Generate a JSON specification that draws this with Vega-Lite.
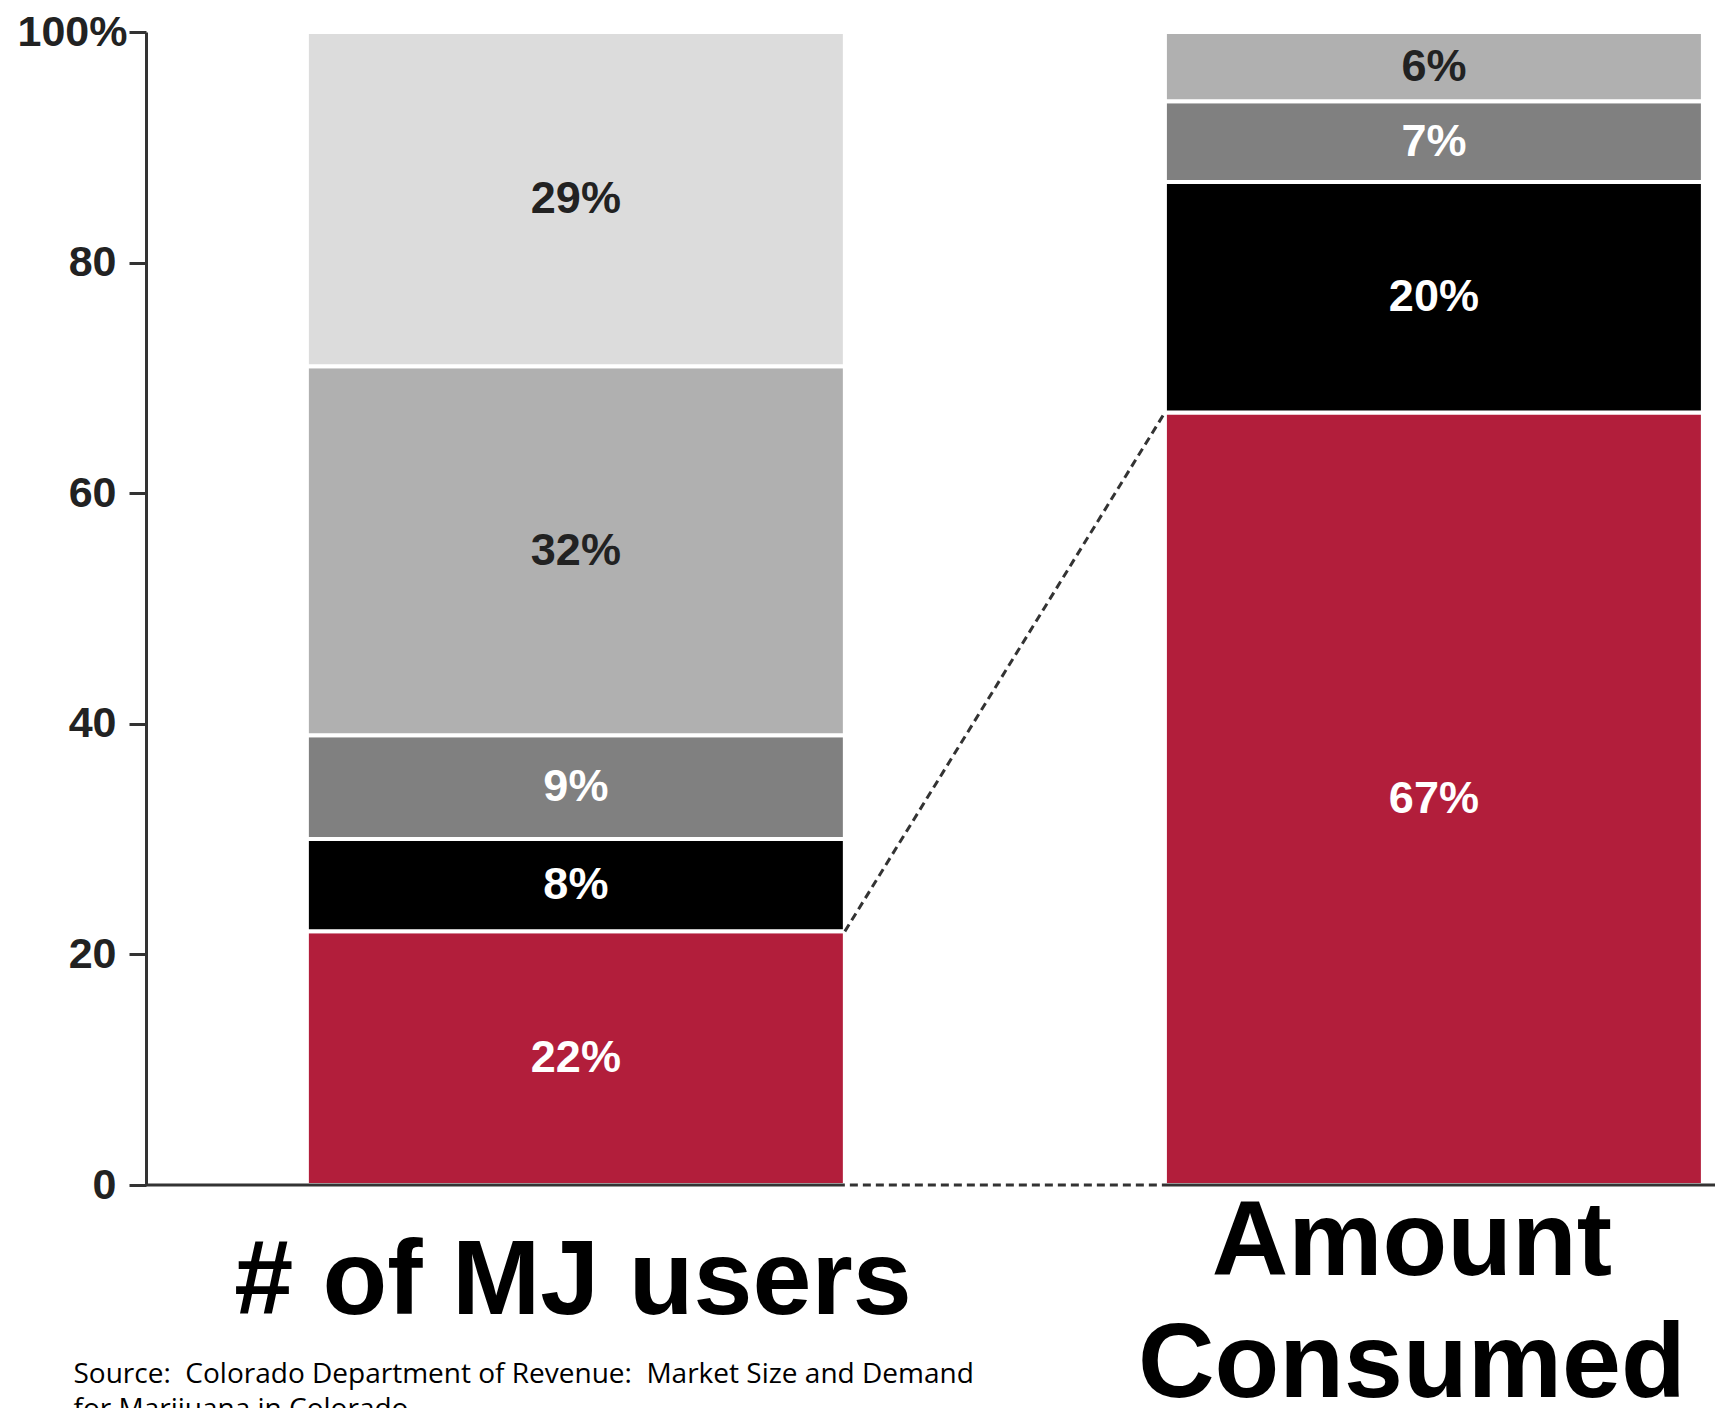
{
  "$schema": "https://vega.github.io/schema/vega-lite/v6.json",
  "autosize": {"type": "none"},
  "padding": {"left": 146, "top": 32, "right": 0, "bottom": 223},
  "width": 1569,
  "height": 1153,
  "background": "white",
  "config": {"view": {"stroke": null}},
  "datasets": {
    "shares": [
      {"bar": "# of MJ users", "seg": "26-31 days", "tier": 1, "value": 0.22},
      {"bar": "# of MJ users", "seg": "21-25 days", "tier": 2, "value": 0.08},
      {"bar": "# of MJ users", "seg": "11-20 days", "tier": 3, "value": 0.09},
      {"bar": "# of MJ users", "seg": "6-10 days", "tier": 4, "value": 0.32},
      {"bar": "# of MJ users", "seg": "1-5 days", "tier": 5, "value": 0.29},
      {"bar": "Amount Consumed", "seg": "26-31 days", "tier": 1, "value": 0.67},
      {"bar": "Amount Consumed", "seg": "21-25 days", "tier": 2, "value": 0.20},
      {"bar": "Amount Consumed", "seg": "11-20 days", "tier": 3, "value": 0.07},
      {"bar": "Amount Consumed", "seg": "6-10 days", "tier": 4, "value": 0.06}
    ],
    "connectors": [
      {"from": "# of MJ users", "to": "Amount Consumed", "lo": 0.22, "hi": 0.67, "base": 0}
    ]
  },
  "layer": [
    {
      "data": {"name": "shares"},
      "mark": {"type": "bar", "stroke": "white", "strokeWidth": 4},
      "encoding": {
        "x": {
          "field": "bar",
          "type": "nominal",
          "sort": null,
          "scale": {"type": "band", "domain": ["# of MJ users", "Amount Consumed"], "paddingInner": 0.373, "paddingOuter": 0.1008, "align": 0.93},
          "axis": {
            "domain": false,
            "ticks": false,
            "tickSize": 0,
            "labelFont": "Liberation Sans",
            "labelFontWeight": "bold",
            "labelColor": "black",
            "labelFontSize": 106,
            "labelExpr": "datum.value == 'Amount Consumed' ? ['Amount', 'Consumed'] : datum.value",
            "labelLineHeight": 122,
            "labelBaseline": "alphabetic",
            "labelPadding": {"condition": {"test": "datum.value == 'Amount Consumed'", "value": 89}, "value": 128},
            "labelOffset": {"condition": {"test": "datum.value == 'Amount Consumed'", "value": -22}, "value": -3},
            "labelLimit": 0,
            "labelOverlap": false,
            "labelBound": false,
            "labelFlush": false,
            "labelAngle": 0,
            "title": ["Source:\u00a0 Colorado Department of Revenue:\u00a0 Market Size and Demand", "for Marijuana in Colorado"],
            "titleFont": "Open Sans",
            "titleFontSize": 28,
            "titleFontWeight": "normal",
            "titleColor": "black",
            "titleAlign": "left",
            "titleAnchor": "start",
            "titleX": -73,
            "titleY": 197,
            "titleBaseline": "alphabetic",
            "titleLineHeight": 35,
            "titleLimit": 2000
          }
        },
        "y": {
          "field": "value",
          "type": "quantitative",
          "stack": "zero",
          "scale": {"domain": [0, 1], "nice": false},
          "axis": {
            "values": [0, 0.2, 0.4, 0.6, 0.8, 1],
            "labelExpr": "datum.value == 1 ? '100%' : format(datum.value * 100, 'd')",
            "title": null,
            "grid": false,
            "domainColor": "#333333",
            "domainWidth": 3,
            "tickColor": "#333333",
            "tickWidth": 3,
            "tickSize": 17,
            "labelFont": "Liberation Sans",
            "labelFontWeight": "bold",
            "labelFontSize": 43,
            "labelColor": "#222222",
            "labelPadding": {"condition": {"test": "datum.value == 1", "value": 2}, "value": 13},
            "labelFlush": false,
            "labelOverlap": false
          }
        },
        "color": {
          "field": "seg",
          "type": "nominal",
          "scale": {
            "domain": ["26-31 days", "21-25 days", "11-20 days", "6-10 days", "1-5 days"],
            "range": ["#B21E3B", "#000000", "#808080", "#B0B0B0", "#DCDCDC"]
          },
          "legend": null
        },
        "order": {"field": "tier", "type": "quantitative", "sort": "ascending"}
      }
    },
    {
      "data": {"values": [{}]},
      "mark": {"type": "rule", "color": "#333333", "strokeWidth": 3},
      "encoding": {"y": {"datum": 0, "type": "quantitative"}}
    },
    {
      "data": {"name": "connectors"},
      "mark": {"type": "rule", "color": "white", "strokeWidth": 5, "strokeDash": [5, 8]},
      "encoding": {
        "x": {"field": "from", "type": "nominal", "bandPosition": 1},
        "x2": {"field": "to", "bandPosition": 0},
        "y": {"field": "base", "type": "quantitative"}
      }
    },
    {
      "data": {"name": "connectors"},
      "mark": {"type": "rule", "color": "#333333", "strokeWidth": 3, "strokeDash": [8, 5]},
      "encoding": {
        "x": {"field": "from", "type": "nominal", "bandPosition": 1},
        "x2": {"field": "to", "bandPosition": 0},
        "y": {"field": "lo", "type": "quantitative"},
        "y2": {"field": "hi"}
      }
    },
    {
      "data": {"name": "shares"},
      "transform": [
        {"stack": "value", "groupby": ["bar"], "sort": [{"field": "tier", "order": "ascending"}], "as": ["v0", "v1"]},
        {"calculate": "(datum.v0 + datum.v1) / 2", "as": "mid"}
      ],
      "mark": {"type": "text", "font": "Liberation Sans", "fontWeight": "bold", "fontSize": 45, "baseline": "middle", "align": "center"},
      "encoding": {
        "x": {"field": "bar", "type": "nominal"},
        "y": {"field": "mid", "type": "quantitative"},
        "text": {"field": "value", "type": "quantitative", "format": ".0%"},
        "color": {"condition": {"test": "datum.tier <= 3", "value": "white"}, "value": "#222222"}
      }
    }
  ]
}
